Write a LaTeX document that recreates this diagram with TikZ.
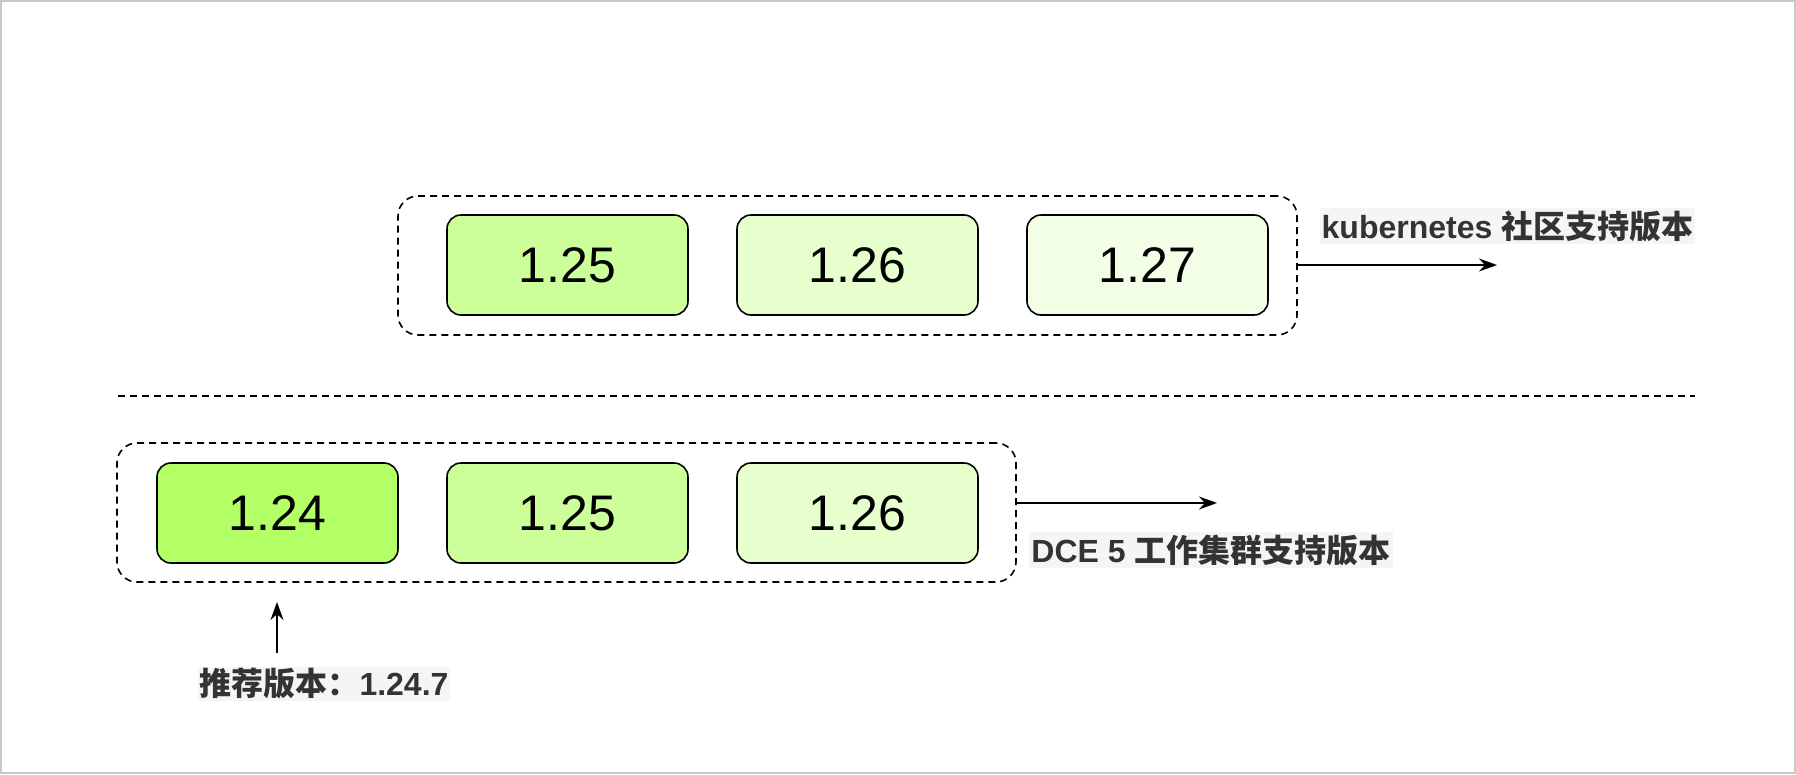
\documentclass[tikz,border=0pt]{standalone}
\usepackage{fontspec}
\setmainfont{Liberation Sans}
\newfontfamily\cjk{Noto Sans CJK SC}
\usetikzlibrary{arrows.meta}
\definecolor{frame}{HTML}{C8C8C8}
\definecolor{cA}{HTML}{B3FF66}
\definecolor{cB}{HTML}{CCFF99}
\definecolor{cC}{HTML}{E6FFCC}
\definecolor{cD}{HTML}{F2FFE6}
\definecolor{lbl}{HTML}{333333}
\definecolor{lblbg}{HTML}{F5F5F5}
\tikzset{
  verbox/.style={draw=black, line width=1.6pt, rounded corners=14pt, minimum width=241pt, minimum height=100pt, inner sep=0pt, font=\fontsize{50}{56}\selectfont},
  grpbox/.style={draw=black, line width=1.6pt, dash pattern=on 7pt off 5pt, rounded corners=20pt, minimum width=899pt, minimum height=139pt, inner sep=0pt},
  sepline/.style={draw=black, line width=1.4pt, dash pattern=on 7pt off 5pt},
  arr/.style={draw=black, line width=1.6pt, -{Stealth[length=18pt,width=13pt]}},
  lab/.style={fill=lblbg, text=lbl, inner sep=2pt, font=\fontsize{32}{36}\selectfont\bfseries}
}
\begin{document}
\begin{tikzpicture}[x=1pt,y=-1pt]
\useasboundingbox (0,0) rectangle (1796,774);
\draw[frame, line width=2pt] (1,1) rectangle (1795,773);
% top group
\node[grpbox] (grpT) at (847.5,265.5) {};
\node[verbox, fill=cB] (t125) at (567.5,265) {1.25};
\node[verbox, fill=cC] (t126) at (857.5,265) {1.26};
\node[verbox, fill=cD] (t127) at (1147.5,265) {1.27};
\coordinate (aTend) at (1497,265);
\draw[arr] (grpT.east |- aTend) -- (aTend);
\node[lab] (labT) at (1507.5,226) {kubernetes {\cjk\bfseries 社区支持版本}};
% separator
\coordinate (sepL) at (118,396);
\coordinate (sepR) at (1695,396);
\draw[sepline] (sepL) -- (sepR);
% bottom group
\node[grpbox] (grpB) at (566.5,512.5) {};
\node[verbox, fill=cA] (b124) at (277.5,513) {1.24};
\node[verbox, fill=cB] (b125) at (567.5,513) {1.25};
\node[verbox, fill=cC] (b126) at (857.5,513) {1.26};
\coordinate (aBend) at (1217,503);
\draw[arr] (grpB.east |- aBend) -- (aBend);
\node[lab] (labB) at (1211,550) {DCE 5 {\cjk\bfseries 工作集群支持版本}};
% recommended
\node[lab] (labR) at (324,684) {{\cjk\bfseries 推荐版本：}1.24.7};
\coordinate (upS) at (277,653);
\coordinate (upE) at (277,602);
\draw[arr] (upS) -- (upE);
\end{tikzpicture}
\end{document}
